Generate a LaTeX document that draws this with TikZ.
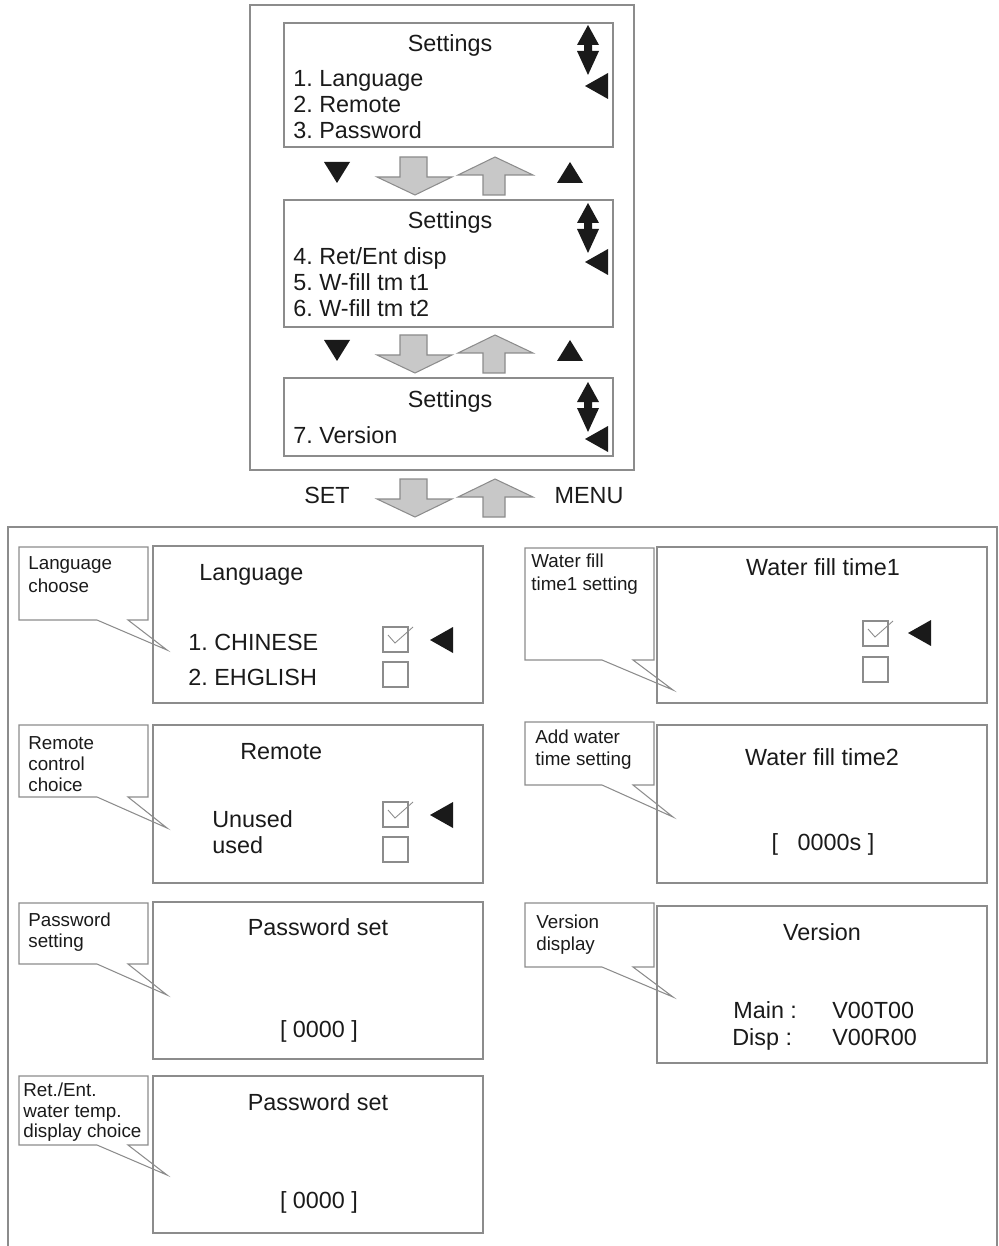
\documentclass[tikz,border=0pt]{standalone}
\usepackage{fontspec}
\setmainfont{Liberation Sans}
\frenchspacing

\definecolor{ink}{HTML}{1A1A1A}
\definecolor{boxgray}{HTML}{8C8C8C}
\definecolor{arrgray}{HTML}{C8C8C8}

% black marks of the screens
\newcommand{\updown}[2]{%
  \fill[ink] (#1,#2) -- (#1+11,#2+20) -- (#1+4,#2+20) -- (#1+4,#2+26) -- (#1+11,#2+26)
    -- (#1,#2+50) -- (#1-11,#2+26) -- (#1-4,#2+26) -- (#1-4,#2+20) -- (#1-11,#2+20) -- cycle;}
\newcommand{\selmark}[2]{%
  \fill[ink] (#1,#2) -- (#1+23,#2-13) -- (#1+23,#2+13) -- cycle;}
\newcommand{\tridown}[2]{%
  \fill[ink] (#1-13,#2) -- (#1+13,#2) -- (#1,#2+21) -- cycle;}
\newcommand{\triup}[2]{%
  \fill[ink] (#1-13,#2+21) -- (#1+13,#2+21) -- (#1,#2) -- cycle;}
% big gray arrows
\newcommand{\bigdown}[2]{%
  \filldraw[fill=arrgray, draw=boxgray, line width=0.6pt] (#1+23,#2) -- (#1+50,#2) -- (#1+50,#2+20)
    -- (#1+75,#2+20) -- (#1+38,#2+38) -- (#1,#2+20) -- (#1+23,#2+20) -- cycle;}
\newcommand{\bigup}[2]{%
  \filldraw[fill=arrgray, draw=boxgray, line width=0.6pt] (#1+37,#2) -- (#1+75,#2+18) -- (#1+47,#2+18)
    -- (#1+47,#2+38) -- (#1+25,#2+38) -- (#1+25,#2+18) -- (#1,#2+18) -- cycle;}
% check boxes
\newcommand{\chkbox}[2]{%
  \draw[boxgray, line width=0.6pt] (#1,#2) rectangle (#1+25,#2+25);}
\newcommand{\tick}[2]{%
  \draw[boxgray, line width=0.5pt] (#1+5,#2+8) -- (#1+12,#2+16) -- (#1+30,#2);}
% callout: box, tail base points, tip
\newcommand{\callout}[8]{%
  \draw[boxgray, line width=0.6pt] (#1,#2) -- (#3,#2) -- (#3,#4) -- (#6,#4) -- (#7,#8)
    -- (#5,#4) -- (#1,#4) -- cycle;}

\begin{document}
\begin{tikzpicture}[x=0.02cm, y=-0.02cm,
    screen/.style={draw=boxgray, line width=0.7pt},
    ptxt/.style={font=\fontsize{13.3}{15}\selectfont, text=ink, inner sep=0pt},
    ctxt/.style={font=\fontsize{10.7}{12.5}\selectfont, text=ink, inner sep=0pt, anchor=base west}]
\useasboundingbox (0,0) rectangle (999,1246);

% ---------- menu frame ----------
\draw[screen] (250,5) rectangle (634,470);

% screen 1
\draw[screen] (284,23) rectangle (613,147);
\node[ptxt, anchor=base] (t1) at (450,52) {Settings};
\node[ptxt, anchor=base west] (m1) at (293,87) {1. Language};
\node[ptxt, anchor=base west] (m2) at (293,113) {2. Remote};
\node[ptxt, anchor=base west] (m3) at (293,139) {3. Password};
\updown{588}{25}
\selmark{585}{86}

\tridown{337}{162}
\bigdown{377}{157}
\bigup{458}{157}
\triup{570}{162}

% screen 2
\draw[screen] (284,200) rectangle (613,327);
\node[ptxt, anchor=base] (t2) at (450,229) {Settings};
\node[ptxt, anchor=base west] (m4) at (293,265) {4. Ret/Ent disp};
\node[ptxt, anchor=base west] (m5) at (293,291) {5. W-fill tm t1};
\node[ptxt, anchor=base west] (m6) at (293,317) {6. W-fill tm t2};
\updown{588}{203}
\selmark{585}{262}

\tridown{337}{340}
\bigdown{377}{335}
\bigup{458}{335}
\triup{570}{340}

% screen 3
\draw[screen] (284,378) rectangle (613,456);
\node[ptxt, anchor=base] (t3) at (450,407) {Settings};
\node[ptxt, anchor=base west] (m7) at (293,443) {7. Version};
\updown{588}{382}
\selmark{585}{439}

% set / menu keys
\node[ptxt, anchor=base] (set) at (327,503) {SET};
\bigdown{377}{479}
\bigup{458}{479}
\node[ptxt, anchor=base] (menu) at (589,503) {MENU};

% ---------- setting screens frame ----------
\draw[screen] (8,1246) -- (8,527) -- (997,527) -- (997,1246);

% language
\draw[screen] (153,546) rectangle (483,703);
\callout{19}{547}{148}{620}{97}{128}{167}{650}
\node[ctxt] (c1a) at (28,569) {Language};
\node[ctxt] (c1b) at (28,592) {choose};
\node[ptxt, anchor=base west] (lang) at (199,580) {Language};
\node[ptxt, anchor=base west] (chn) at (188,650) {1. CHINESE};
\node[ptxt, anchor=base west] (eng) at (188,685) {2. EHGLISH};
\chkbox{383}{627}\tick{383}{627}
\chkbox{383}{662}
\selmark{430}{640}

% remote
\draw[screen] (153,725) rectangle (483,883);
\callout{19}{725}{148}{797}{97}{128}{167}{828}
\node[ctxt] (c2a) at (28,749) {Remote};
\node[ctxt] (c2b) at (28,770) {control};
\node[ctxt] (c2c) at (28,791) {choice};
\node[ptxt, anchor=base west] (rem) at (240,759) {Remote};
\node[ptxt, anchor=base west] (unu) at (212,827) {Unused};
\node[ptxt, anchor=base west] (use) at (212,853) {used};
\chkbox{383}{802}\tick{383}{802}
\chkbox{383}{837}
\selmark{430}{815}

% password
\draw[screen] (153,902) rectangle (483,1059);
\callout{19}{903}{148}{964}{97}{128}{167}{995}
\node[ctxt] (c3a) at (28,926) {Password};
\node[ctxt] (c3b) at (28,947) {setting};
\node[ptxt, anchor=base] (pw1) at (318,935) {Password set};
\node[ptxt, anchor=base] (pv1) at (319,1037) {[ 0000 ]};

% ret/ent display
\draw[screen] (153,1076) rectangle (483,1233);
\callout{19}{1076}{148}{1145}{97}{128}{167}{1175}
\node[ctxt] (c4a) at (23,1096) {Ret./Ent.};
\node[ctxt] (c4b) at (23,1117) {water temp.};
\node[ctxt] (c4c) at (23,1137) {display choice};
\node[ptxt, anchor=base] (pw2) at (318,1110) {Password set};
\node[ptxt, anchor=base] (pv2) at (319,1208) {[ 0000 ]};

% water fill time1
\draw[screen] (657,547) rectangle (987,703);
\callout{525}{548}{654}{660}{602}{633}{673}{690}
\node[ctxt] (c5a) at (531,567) {Water fill};
\node[ctxt] (c5b) at (531,590) {time1 setting};
\node[ptxt, anchor=base] (wf1) at (823,575) {Water fill time1};
\chkbox{863}{621}\tick{863}{621}
\chkbox{863}{657}
\selmark{908}{633}

% water fill time2
\draw[screen] (657,725) rectangle (987,883);
\callout{525}{722}{654}{785}{602}{633}{673}{817}
\node[ctxt] (c6a) at (535,743) {Add water};
\node[ctxt] (c6b) at (535,765) {time setting};
\node[ptxt, anchor=base] (wf2) at (822,765) {Water fill time2};
\node[ptxt, anchor=base] (wv2) at (823,850) {[\ \ \ 0000s ]};

% version
\draw[screen] (657,906) rectangle (987,1063);
\callout{525}{903}{654}{967}{602}{633}{673}{997}
\node[ctxt] (c7a) at (536,928) {Version};
\node[ctxt] (c7b) at (536,950) {display};
\node[ptxt, anchor=base] (ver) at (822,940) {Version};
\node[ptxt, anchor=base west] (vm) at (733,1018) {Main :};
\node[ptxt, anchor=base west] (vmv) at (832,1018) {V00T00};
\node[ptxt, anchor=base west] (vd) at (732,1045) {Disp :};
\node[ptxt, anchor=base west] (vdv) at (832,1045) {V00R00};
\end{tikzpicture}
\end{document}
